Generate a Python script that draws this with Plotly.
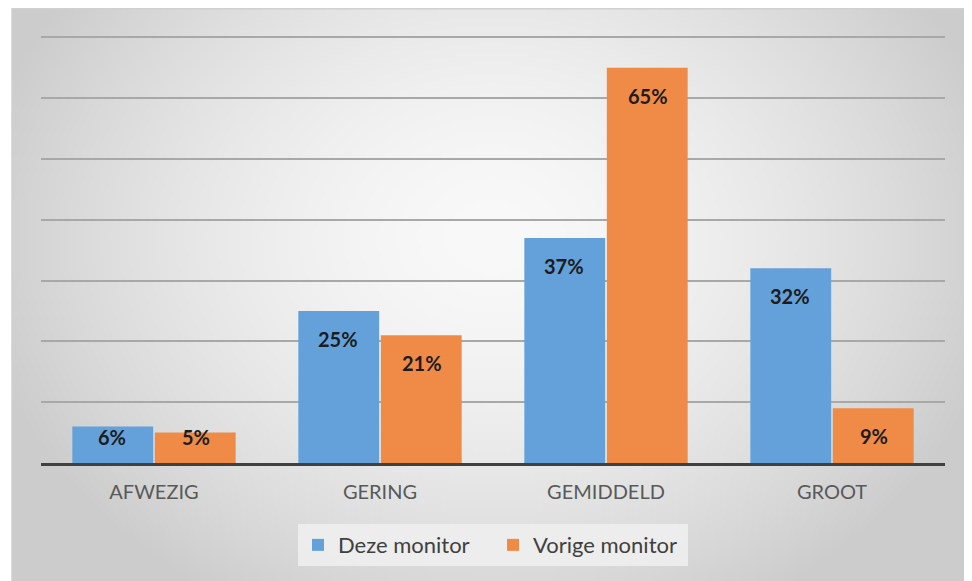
"""Bar chart: Deze monitor vs Vorige monitor."""

import base64
import struct
import zlib

import numpy as np
import plotly.graph_objects as go

categories = ["AFWEZIG", "GERING", "GEMIDDELD", "GROOT"]
deze_monitor = [6, 25, 37, 32]
vorige_monitor = [5, 21, 65, 9]
series_names = ["Deze monitor", "Vorige monitor"]

BLUE = "#64a1da"
ORANGE = "#ef8b47"
FONT = "Lato, 'Open Sans', sans-serif"


def gradient_png(width=240, height=144):
    """Radial grey gradient (light centre, darker edges) as a PNG data URI."""
    yy, xx = np.mgrid[0:height, 0:width]
    dx = (xx / (width - 1) - 0.5) / 0.55
    dy = (yy / (height - 1) - 0.40) / 0.75
    r = np.clip(np.sqrt(dx ** 2 + dy ** 2), 0, 1)
    shade = 249 - (249 - 204) * r ** 1.6
    pix = np.repeat(shade[:, :, None], 3, axis=2).astype(np.uint8)
    raw = b"".join(b"\x00" + row.tobytes() for row in pix)

    def chunk(tag, data):
        return (struct.pack(">I", len(data)) + tag + data
                + struct.pack(">I", zlib.crc32(tag + data) & 0xFFFFFFFF))

    png = (b"\x89PNG\r\n\x1a\n"
           + chunk(b"IHDR", struct.pack(">IIBBBBB", width, height, 8, 2, 0, 0, 0))
           + chunk(b"IDAT", zlib.compress(raw, 9))
           + chunk(b"IEND", b""))
    return "data:image/png;base64," + base64.b64encode(png).decode()


fig = go.Figure()
for name, values, color in [(series_names[0], deze_monitor, BLUE),
                            (series_names[1], vorige_monitor, ORANGE)]:
    fig.add_trace(go.Bar(name=name, x=categories, y=values, marker_color=color,
                         marker_line_width=0))

# value labels, placed like Excel "inside end"
for values, shift in [(deze_monitor, -42), (vorige_monitor, 42)]:
    for cat, v in zip(categories, values):
        big = v >= 9
        fig.add_annotation(
            x=cat, y=v if big else 0, xshift=shift, yshift=-28 if big else 26,
            text=f"<b>{v}%</b>", showarrow=False,
            font=dict(family=FONT, size=20, color="#1c1c1c"),
        )

# page body has an 8px margin, so the figure is 964x573 and starts at (8, 8)
W, H = 964, 573
L, R, T, B = 33, 27, 28, 118
pw, ph = W - L - R, H - T - B
fig.add_layout_image(
    source=gradient_png(), xref="paper", yref="paper",
    x=(4 - L) / pw, y=1 + T / ph, sizex=(W - 4) / pw, sizey=H / ph,
    xanchor="left", yanchor="top", sizing="stretch", layer="below",
)
fig.add_shape(type="rect", xref="paper", yref="paper",
              x0=(4 - L) / pw, x1=(W - L) / pw + 0.01,
              y0=-(B + 5) / ph, y1=1 + (T - 0.7) / ph,
              line=dict(color="#d0d0d0", width=1.5), layer="below")

fig.update_layout(
    width=W, height=H,
    margin=dict(l=L, r=R, t=T, b=B),
    paper_bgcolor="white", plot_bgcolor="rgba(0,0,0,0)",
    barmode="group", bargap=0.27, bargroupgap=0.02,
    font=dict(family=FONT, color="#595959"),
    showlegend=True,
    legend=dict(
        orientation="h", x=0.5, xanchor="center", y=-0.143, yanchor="top",
        bgcolor="rgba(238,238,238,0.9)", font=dict(size=22, color="#404040"),
        entrywidth=150, traceorder="normal",
    ),
    xaxis=dict(
        showgrid=False, showline=True, linecolor="#404040", linewidth=2.5,
        ticks="outside", ticklen=9, tickcolor="rgba(0,0,0,0)",
        tickfont=dict(size=20, color="#595959"),
    ),
    yaxis=dict(
        range=[0, 70.2], tick0=0, dtick=10, showticklabels=False,
        gridcolor="#a8a8a8", gridwidth=1.5, zeroline=False, showline=False,
    ),
)

fig.write_html("out.html")
